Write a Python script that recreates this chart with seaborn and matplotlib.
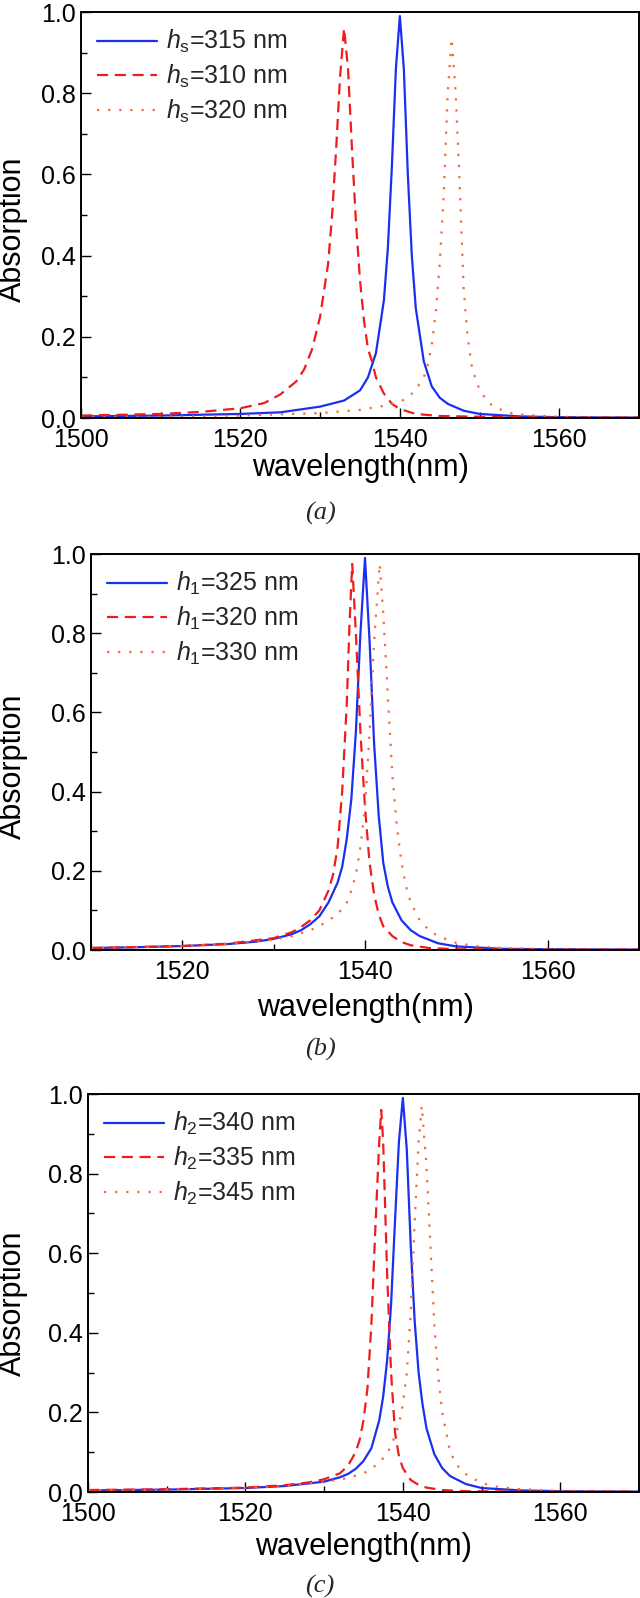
import matplotlib
matplotlib.use("Agg")
import matplotlib.pyplot as plt
from matplotlib.ticker import MultipleLocator
import seaborn as sns
import pandas as pd

# ---- dados ----
# painel (a): h_s
wl_a_315 = [1500, 1510, 1520, 1525, 1530, 1533, 1535, 1536, 1537, 1538, 1538.5, 1539, 1539.5, 1540,
            1540.5, 1541, 1541.5, 1542, 1543, 1544, 1545, 1546, 1548, 1550, 1555, 1560, 1570]
ab_a_315 = [0.004, 0.006, 0.010, 0.014, 0.028, 0.043, 0.068, 0.10, 0.16, 0.29, 0.42, 0.62, 0.86, 0.99,
            0.86, 0.60, 0.40, 0.27, 0.14, 0.078, 0.05, 0.035, 0.018, 0.010, 0.004, 0.002, 0.001]

wl_a_310 = [1500, 1510, 1515, 1520, 1523, 1525, 1527, 1528, 1529, 1530, 1531, 1531.5, 1532, 1532.5, 1533,
            1533.5, 1534, 1534.5, 1535, 1535.5, 1536, 1536.5, 1537, 1538, 1539, 1540, 1542, 1545, 1550,
            1560, 1570]
ab_a_310 = [0.006, 0.010, 0.015, 0.024, 0.037, 0.058, 0.09, 0.12, 0.17, 0.25, 0.38, 0.50, 0.66, 0.84, 0.96,
            0.86, 0.66, 0.48, 0.34, 0.24, 0.17, 0.14, 0.10, 0.06, 0.035, 0.022, 0.010, 0.005, 0.003,
            0.001, 0.001]

wl_a_320 = [1500, 1510, 1520, 1530, 1535, 1538, 1540, 1541, 1542, 1543, 1543.5, 1544, 1544.5, 1545, 1545.5,
            1546, 1546.5, 1547, 1547.5, 1548, 1548.5, 1549, 1549.5, 1550, 1551, 1552, 1554, 1556, 1560, 1570]
ab_a_320 = [0.002, 0.003, 0.006, 0.012, 0.02, 0.03, 0.04, 0.05, 0.07, 0.10, 0.13, 0.18, 0.26, 0.38, 0.55,
            0.80, 0.935, 0.80, 0.58, 0.32, 0.20, 0.13, 0.095, 0.07, 0.04, 0.025, 0.012, 0.007, 0.003, 0.001]

# painel (b): h_1
wl_b_325 = [1510, 1515, 1520, 1525, 1528, 1530, 1532, 1533, 1534, 1535, 1536, 1537, 1537.5, 1538, 1538.5,
            1539, 1539.5, 1540, 1540.5, 1541, 1541.5, 1542, 1542.5, 1543, 1544, 1545, 1546, 1548, 1550,
            1555, 1560, 1570]
ab_b_325 = [0.005, 0.007, 0.010, 0.015, 0.021, 0.028, 0.040, 0.050, 0.065, 0.085, 0.12, 0.17, 0.21, 0.28,
            0.38, 0.55, 0.80, 0.99, 0.78, 0.52, 0.34, 0.22, 0.16, 0.12, 0.075, 0.05, 0.035, 0.017, 0.009,
            0.003, 0.002, 0.001]

wl_b_320 = [1510, 1520, 1525, 1530, 1532, 1533, 1534, 1535, 1536, 1536.5, 1537, 1537.5, 1538, 1538.3,
            1538.6, 1539, 1539.5, 1540, 1540.5, 1541, 1541.5, 1542, 1543, 1544, 1545, 1547, 1550, 1560, 1570]
ab_b_320 = [0.005, 0.010, 0.016, 0.030, 0.045, 0.058, 0.075, 0.10, 0.15, 0.19, 0.26, 0.40, 0.62, 0.82,
            0.975, 0.80, 0.55, 0.36, 0.22, 0.14, 0.09, 0.06, 0.035, 0.02, 0.012, 0.005, 0.002, 0.001, 0.001]

wl_b_330 = [1510, 1520, 1525, 1530, 1532, 1534, 1535, 1536, 1537, 1538, 1538.5, 1539, 1539.5, 1540, 1540.5,
            1541, 1541.6, 1542, 1542.5, 1543, 1543.5, 1544, 1544.5, 1545, 1546, 1547, 1548, 1550, 1552,
            1555, 1560, 1570]
ab_b_330 = [0.005, 0.010, 0.015, 0.026, 0.035, 0.05, 0.06, 0.075, 0.09, 0.12, 0.15, 0.19, 0.26, 0.36, 0.55,
            0.78, 0.975, 0.85, 0.64, 0.44, 0.31, 0.22, 0.16, 0.12, 0.075, 0.05, 0.035, 0.018, 0.010,
            0.005, 0.002, 0.001]

# painel (c): h_2
wl_c_340 = [1500, 1510, 1520, 1525, 1530, 1532, 1533, 1534, 1535, 1536, 1537, 1537.5, 1538, 1538.5, 1539,
            1539.5, 1540, 1540.5, 1541, 1541.5, 1542, 1542.5, 1543, 1544, 1545, 1546, 1548, 1550, 1555,
            1560, 1570]
ab_c_340 = [0.004, 0.006, 0.010, 0.015, 0.026, 0.037, 0.045, 0.058, 0.078, 0.11, 0.18, 0.24, 0.33, 0.47,
            0.68, 0.88, 0.99, 0.86, 0.62, 0.43, 0.30, 0.22, 0.16, 0.095, 0.06, 0.04, 0.02, 0.01, 0.004,
            0.002, 0.001]

wl_c_335 = [1500, 1510, 1520, 1525, 1528, 1530, 1532, 1533, 1534, 1534.5, 1535, 1535.5, 1536, 1536.5, 1537,
            1537.25, 1537.5, 1538, 1538.5, 1539, 1539.5, 1540, 1541, 1542, 1543, 1545, 1548, 1555, 1570]
ab_c_335 = [0.005, 0.007, 0.011, 0.017, 0.024, 0.032, 0.047, 0.065, 0.10, 0.13, 0.18, 0.26, 0.42, 0.66,
            0.88, 0.96, 0.88, 0.55, 0.30, 0.15, 0.09, 0.06, 0.03, 0.018, 0.011, 0.005, 0.002, 0.001, 0.001]

wl_c_345 = [1500, 1510, 1520, 1525, 1530, 1533, 1535, 1536, 1537, 1538, 1539, 1539.5, 1540, 1540.5, 1541,
            1541.5, 1542, 1542.4, 1543, 1543.5, 1544, 1544.5, 1545, 1545.5, 1546, 1547, 1548, 1550, 1552,
            1555, 1560, 1570]
ab_c_345 = [0.004, 0.006, 0.010, 0.015, 0.025, 0.035, 0.047, 0.058, 0.075, 0.095, 0.14, 0.17, 0.22, 0.30,
            0.45, 0.68, 0.88, 0.97, 0.82, 0.62, 0.42, 0.29, 0.20, 0.15, 0.10, 0.065, 0.045, 0.022, 0.013,
            0.007, 0.003, 0.001]

labels_a = [r"$h_{\rm s}$=315 nm", r"$h_{\rm s}$=310 nm", r"$h_{\rm s}$=320 nm"]
labels_b = [r"$h_1$=325 nm", r"$h_1$=320 nm", r"$h_1$=330 nm"]
labels_c = [r"$h_2$=340 nm", r"$h_2$=335 nm", r"$h_2$=345 nm"]

# ---- estilo ----
sns.set_theme(style="ticks")
plt.rcParams["font.family"] = ["Liberation Sans", "DejaVu Sans"]
plt.rcParams["mathtext.fontset"] = "custom"
plt.rcParams["mathtext.rm"] = "Liberation Sans"
plt.rcParams["mathtext.it"] = "Liberation Sans:italic"

cores = ["#1a2ff0", "#ee1c1c", "#f26a35"]
estilos = ["-", (0, (5, 3)), (0, (1, 4))]

fig = plt.figure(figsize=(6.4, 15.98), dpi=100)

paineis = [
    # (posição do eixo, dados, rótulos, xlim, y do xlabel, coords do ylabel, y da letra, letra)
    ([81/640, 1-418/1598, 558/640, 406/1598],
     [(wl_a_315, ab_a_315), (wl_a_310, ab_a_310), (wl_a_320, ab_a_320)],
     labels_a, (1500, 1570), -0.086, (-0.095, 0.465), 513, "(a)"),
    ([91/640, 1-950/1598, 548/640, 396/1598],
     [(wl_b_325, ab_b_325), (wl_b_320, ab_b_320), (wl_b_330, ab_b_330)],
     labels_b, (1510, 1570), -0.108, (-0.115, 0.465), 1049, "(b)"),
    ([88/640, 1-1492/1598, 551/640, 398/1598],
     [(wl_c_340, ab_c_340), (wl_c_335, ab_c_335), (wl_c_345, ab_c_345)],
     labels_c, (1500, 1570), -0.101, (-0.109, 0.475), 1586, "(c)"),
]

for pos, series, labels, xlim, xl_y, yl_xy, letra_y, letra in paineis:
    ax = fig.add_axes(pos)
    for (wl, ab), lab, cor, ls in zip(series, labels, cores, estilos):
        df = pd.DataFrame({"wavelength": wl, "absorption": ab})
        sns.lineplot(data=df, x="wavelength", y="absorption", ax=ax, color=cor,
                     linestyle=ls, linewidth=1.6, label=lab, estimator=None)
    ax.set_xlim(*xlim)
    ax.set_ylim(0, 1.0)
    ax.xaxis.set_major_locator(MultipleLocator(20))
    ax.xaxis.set_minor_locator(MultipleLocator(10))
    ax.yaxis.set_major_locator(MultipleLocator(0.2))
    ax.yaxis.set_minor_locator(MultipleLocator(0.1))
    ax.yaxis.set_major_formatter(plt.FormatStrFormatter("%.1f"))
    ax.tick_params(which="both", direction="in", top=False, right=False,
                   labelsize=18, width=1.0, color="black", labelcolor="black")
    ax.tick_params(axis="x", which="major", length=7, pad=7.5)
    ax.tick_params(axis="y", which="major", length=7, pad=4)
    ax.tick_params(which="minor", length=4)
    for sp in ax.spines.values():
        sp.set_visible(True)
        sp.set_linewidth(1.4)
        sp.set_color("black")
    ax.set_xlabel("wavelength(nm)", fontsize=22, color="black")
    ax.set_ylabel("Absorption", fontsize=22, color="black")
    ax.xaxis.set_label_coords(0.5, xl_y)
    ax.yaxis.set_label_coords(*yl_xy)
    ax.legend(loc="upper left", frameon=False, fontsize=18, handlelength=2.4,
              handletextpad=0.35, labelspacing=0.3, borderaxespad=0.25)
    # letra do painel
    fig.text(320/640, 1-letra_y/1598, letra, ha="center", va="center",
             fontsize=19, family="Liberation Serif", style="italic")

fig.savefig("out.png", dpi=100)
